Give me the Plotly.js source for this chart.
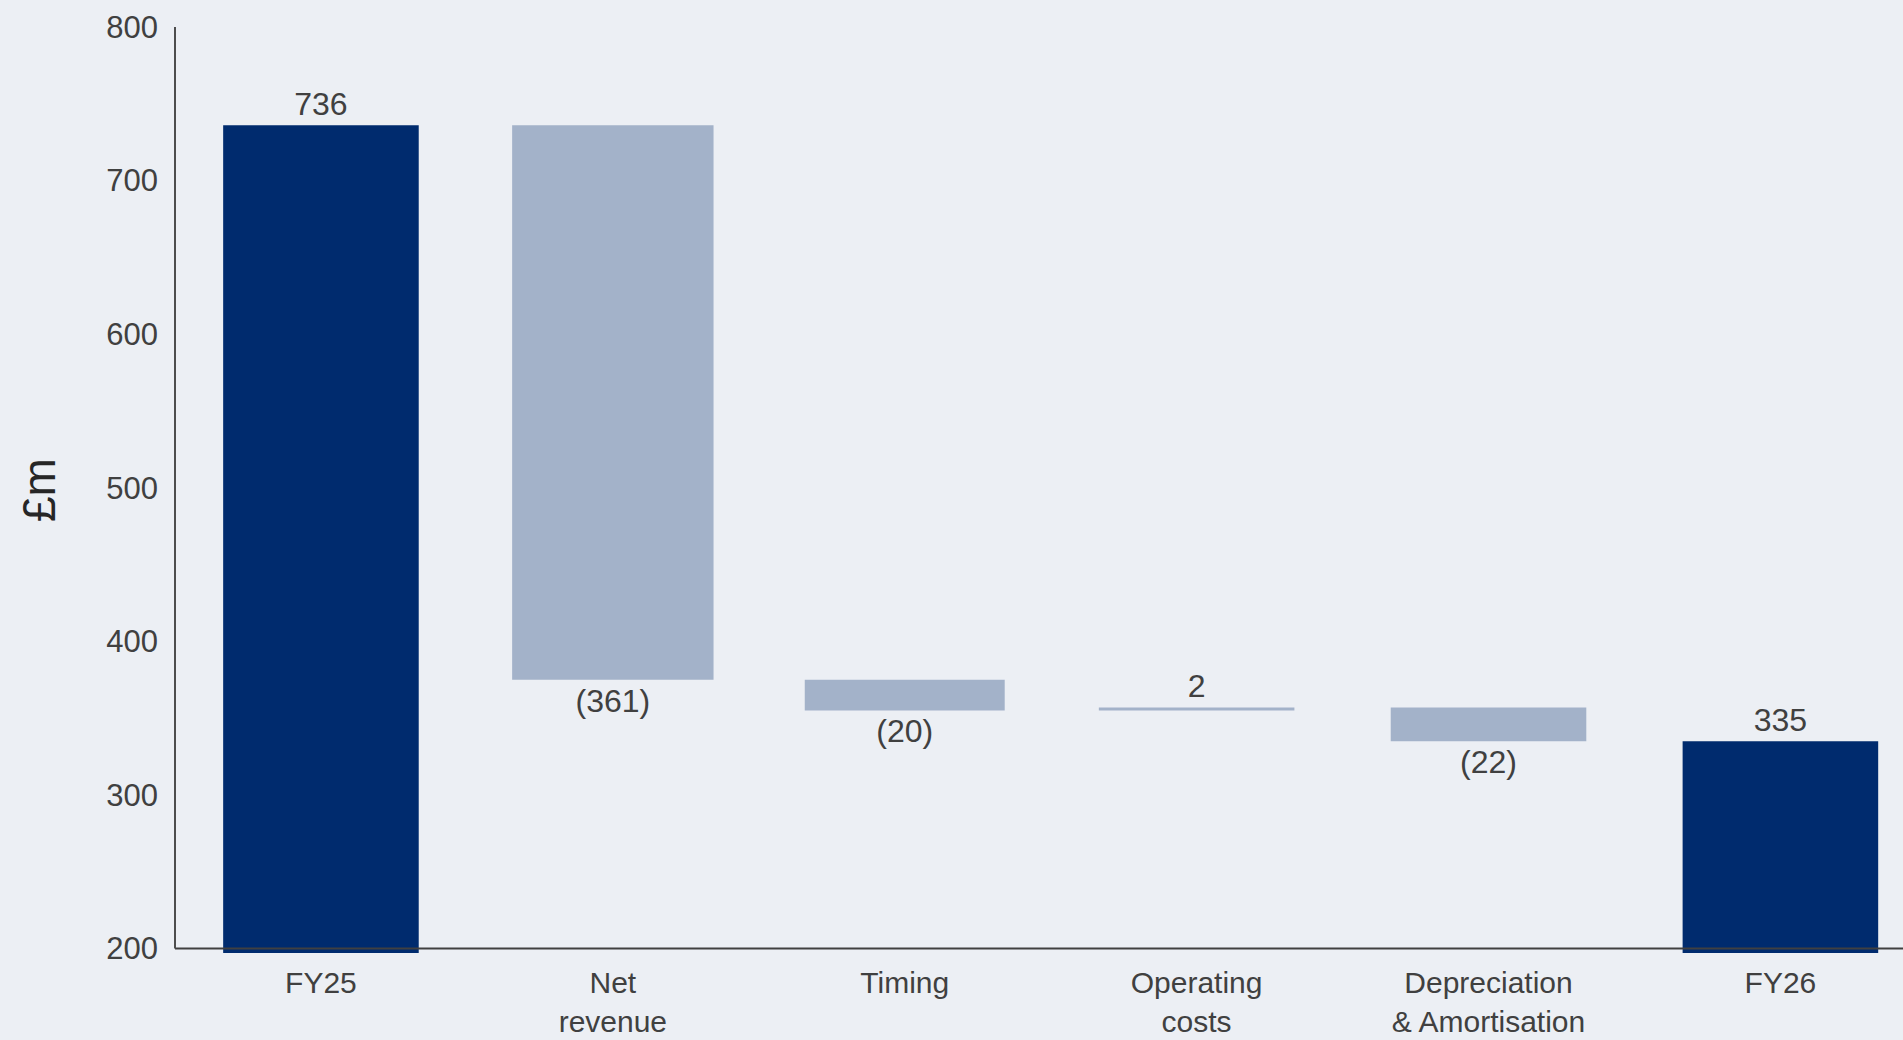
<!DOCTYPE html>
<html>
<head>
<meta charset="utf-8">
<script src="https://cdn.plot.ly/plotly-3.0.1.min.js"></script>
<style>
  html, body { margin: 0; padding: 0; background: #ECEFF4; }
  #chart { width: 1903px; height: 1040px; }
</style>
</head>
<body>
<div id="chart"></div>
<script>
// ---- data ----
const categories = ["FY25", "Net<br>revenue", "Timing", "Operating<br>costs", "Depreciation<br>& Amortisation", "FY26"];
const values = [736, -361, -20, 2, -22, 335];
const measures = ["absolute", "relative", "relative", "relative", "relative", "total"];
const yTickVals = [200, 300, 400, 500, 600, 700, 800];
const yTitle = "£m";

// ---- styles ----
const NAVY = "#002B6E";
const LIGHT = "#A3B2C9";
const BG = "#ECEFF4";
const TXT = "#404040";
const FONT = "Liberation Sans, Arial, sans-serif";

const labels = values.map(v => v < 0 ? "(" + Math.abs(v) + ")" : String(v));

const trace = {
  type: "waterfall",
  x: categories,
  y: values,
  measure: measures,
  text: labels,
  textposition: "outside",
  textfont: { family: FONT, size: 32, color: TXT },
  cliponaxis: false,
  width: [0.67, 0.69, 0.685, 0.67, 0.67, 0.67],
  connector: { visible: false },
  increasing: { marker: { color: LIGHT } },
  decreasing: { marker: { color: LIGHT } },
  totals: { marker: { color: NAVY } },
  hoverinfo: "x+y"
};

const layout = {
  width: 1903,
  height: 1040,
  margin: { l: 175, r: 0, t: 27, b: 87, pad: 0 },
  paper_bgcolor: BG,
  plot_bgcolor: BG,
  showlegend: false,
  font: { family: FONT, color: TXT },
  xaxis: {
    type: "category",
    range: [-0.5, 5.42],
    showgrid: false,
    zeroline: false,
    showline: false,
    ticks: "",
    tickfont: { family: FONT, size: 30, color: TXT },
    ticklabelstandoff: 9,
    automargin: false
  },
  yaxis: {
    range: [197.1, 800],
    tickvals: yTickVals,
    showgrid: false,
    zeroline: false,
    showline: false,
    ticks: "",
    tickfont: { family: FONT, size: 31, color: TXT },
    ticklabelstandoff: 16,
    automargin: false,
    title: { text: yTitle, font: { family: FONT, size: 46, color: "#262626" }, standoff: 36 }
  },
  shapes: [
    { type: "line", xref: "paper", yref: "y", x0: 0, x1: 1, y0: 200, y1: 200,
      line: { color: "#404040", width: 2 }, layer: "above" },
    { type: "line", xref: "paper", yref: "y", x0: 0, x1: 0, y0: 200, y1: 800,
      line: { color: "#4D4D4D", width: 2 }, layer: "above" }
  ]
};

Plotly.newPlot("chart", [trace], layout, { displayModeBar: false, staticPlot: true });
</script>
</body>
</html>
